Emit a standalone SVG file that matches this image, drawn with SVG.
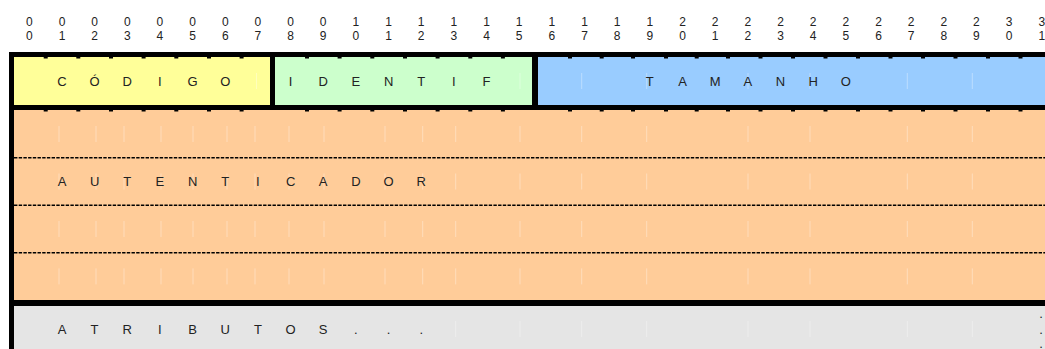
<svg xmlns="http://www.w3.org/2000/svg" width="1045" height="349" viewBox="0 0 1045 349">
<style>
text{font-family:"Liberation Sans",Arial,sans-serif;fill:#222;text-anchor:middle}
.d{font-size:12px}
.t{font-size:13px}
.thick{fill:#000}
.dash{stroke:#000;stroke-width:1.6;stroke-dasharray:3.4 1.3;fill:none}
.faint{stroke:#fff;stroke-opacity:0.35;stroke-width:1}
.tick{fill:#000}
</style>
<rect width="1045" height="349" fill="#fff"/>
<g id="header">
<text class="d" x="29.3 62 94.6 127.3 159.9 192.6 225.3 257.9 290.6 323.2 355.9 388.6 421.2 453.9 486.5 519.2 551.9 584.5 617.2 649.8 682.5 715.2 747.8 780.5 813.1 845.8 878.5 911.1 943.8 976.4 1009.1 1041.8" y="26">00000000001111111111222222222233</text>
<text class="d" x="29.3 62 94.6 127.3 159.9 192.6 225.3 257.9 290.6 323.2 355.9 388.6 421.2 453.9 486.5 519.2 551.9 584.5 617.2 649.8 682.5 715.2 747.8 780.5 813.1 845.8 878.5 911.1 943.8 976.4 1009.1 1041.8" y="39.5">01234567890123456789012345678901</text>
</g>
<g id="codigo">
<rect x="14" y="57" width="256" height="48" fill="#FFFF99"/>
<line class="faint" x1="256.5" y1="73" x2="256.5" y2="89"/>
<text class="t" x="62 94.6 127.3 159.9 192.6 225.3" y="85.7">CÓDIGO</text>
</g>
<g id="identif">
<rect x="275" y="57" width="257" height="48" fill="#CCFFCC"/>
<line class="faint" x1="520" y1="73" x2="520" y2="89"/>
<text class="t" x="290.6 323.2 355.9 388.6 421.2 453.9 486.5" y="85.7">IDENTIF</text>
</g>
<g id="tamanho">
<rect x="538" y="57" width="507" height="48" fill="#99CCFF"/>
<g class="faint">
<line x1="581.7" y1="73" x2="581.7" y2="89"/>
<line x1="646.7" y1="73" x2="646.7" y2="89"/>
<line x1="748" y1="73" x2="748" y2="89"/>
<line x1="810" y1="73" x2="810" y2="89"/>
<line x1="907.3" y1="73" x2="907.3" y2="89"/>
<line x1="972.3" y1="73" x2="972.3" y2="89"/>
</g>
<text class="t" x="649.8 682.5 715.2 747.8 780.5 813.1 845.8" y="85.7">TAMANHO</text>
</g>
<g id="autenticador">
<rect x="14" y="110" width="1031" height="190" fill="#FFCC99"/>
<defs>
<g id="fl">
<line x1="59" y1="-8" x2="59" y2="8"/><line x1="96" y1="-8" x2="96" y2="8"/>
<line x1="124" y1="-8" x2="124" y2="8"/><line x1="161" y1="-8" x2="161" y2="8"/>
<line x1="193" y1="-8" x2="193" y2="8"/><line x1="227" y1="-8" x2="227" y2="8"/>
<line x1="255" y1="-8" x2="255" y2="8"/><line x1="289" y1="-8" x2="289" y2="8"/>
<line x1="324" y1="-8" x2="324" y2="8"/><line x1="385" y1="-8" x2="385" y2="8"/>
<line x1="422.7" y1="-8" x2="422.7" y2="8"/><line x1="455.7" y1="-8" x2="455.7" y2="8"/>
<line x1="520" y1="-8" x2="520" y2="8"/><line x1="581.7" y1="-8" x2="581.7" y2="8"/>
<line x1="646.7" y1="-8" x2="646.7" y2="8"/><line x1="748" y1="-8" x2="748" y2="8"/>
<line x1="810" y1="-8" x2="810" y2="8"/><line x1="907.3" y1="-8" x2="907.3" y2="8"/>
<line x1="972.3" y1="-8" x2="972.3" y2="8"/>
</g>
</defs>
<g class="faint">
<use href="#fl" y="134"/>
<use href="#fl" y="181.5"/>
<use href="#fl" y="229"/>
<use href="#fl" y="276.4"/>
</g>
<line class="dash" x1="14" y1="157.7" x2="1045" y2="157.7"/>
<line class="dash" x1="14" y1="205.3" x2="1045" y2="205.3"/>
<line class="dash" x1="14" y1="252.7" x2="1045" y2="252.7"/>
<text class="t" x="62 94.6 127.3 159.9 192.6 225.3 257.9 290.6 323.2 355.9 388.6 421.2" y="186.2">AUTENTICADOR</text>
</g>
<g id="atributos">
<rect x="14" y="306" width="1031" height="43" fill="#E5E5E5"/>
<g class="faint">
<line x1="455.7" y1="321" x2="455.7" y2="337"/>
<line x1="520" y1="321" x2="520" y2="337"/>
<line x1="581.7" y1="321" x2="581.7" y2="337"/>
<line x1="646.7" y1="321" x2="646.7" y2="337"/>
<line x1="748" y1="321" x2="748" y2="337"/>
<line x1="810" y1="321" x2="810" y2="337"/>
<line x1="907.3" y1="321" x2="907.3" y2="337"/>
<line x1="972.3" y1="321" x2="972.3" y2="337"/>
</g>
<text class="t" x="62 94.6 127.3 159.9 192.6 225.3 257.9 290.6 323.2 355.9 388.6 421.2" y="334">ATRIBUTOS...</text>
<text class="t" x="1041" y="318">.</text>
<text class="t" x="1041" y="334">.</text>
<text class="t" x="1041" y="348">.</text>
</g>
<g id="borders">
<rect class="thick" x="9" y="52" width="5" height="297"/>
<rect class="thick" x="9" y="52" width="1036" height="5"/>
<rect class="thick" x="9" y="105" width="1036" height="5"/>
<rect class="thick" x="9" y="300" width="1036" height="6"/>
<rect class="thick" x="270" y="57" width="5" height="48"/>
<rect class="thick" x="532" y="57" width="6" height="48"/>
<defs>
<g id="ticks">
<rect x="43.7" width="4" height="1.5"/><rect x="76.3" width="4" height="1.5"/>
<rect x="109" width="4" height="1.5"/><rect x="141.6" width="4" height="1.5"/>
<rect x="174.3" width="4" height="1.5"/><rect x="207" width="4" height="1.5"/>
<rect x="239.6" width="4" height="1.5"/><rect x="305" width="4" height="1.5"/>
<rect x="337.6" width="4" height="1.5"/><rect x="370.3" width="4" height="1.5"/>
<rect x="403" width="4" height="1.5"/><rect x="435.6" width="4" height="1.5"/>
<rect x="468.3" width="4" height="1.5"/><rect x="500.9" width="4" height="1.5"/>
<rect x="568" width="4" height="1.5"/><rect x="599.7" width="4" height="1.5"/>
<rect x="631" width="4" height="1.5"/><rect x="664" width="4" height="1.5"/>
<rect x="694.7" width="4" height="1.5"/><rect x="726" width="4" height="1.5"/>
<rect x="758.5" width="4" height="1.5"/><rect x="791" width="4" height="1.5"/>
<rect x="823.5" width="4" height="1.5"/><rect x="856" width="4" height="1.5"/>
<rect x="888.5" width="4" height="1.5"/><rect x="921" width="4" height="1.5"/>
<rect x="953.5" width="4" height="1.5"/><rect x="986" width="4" height="1.5"/>
<rect x="1018.5" width="4" height="1.5"/>
</g>
</defs>
<use href="#ticks" y="57"/>
<use href="#ticks" y="110"/>
</g>
<g id="connectors"/>
</svg>
